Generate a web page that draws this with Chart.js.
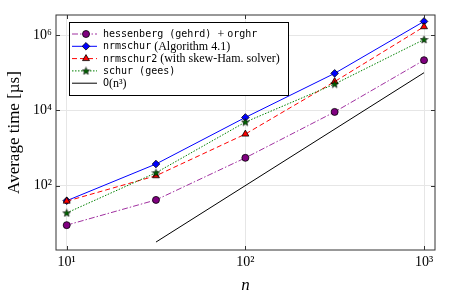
<!DOCTYPE html>
<html>
<head>
    <meta charset="UTF-8">
    <title>Average time</title>
    <style>
        body { margin: 0; background: #fff; }
        #wrap { width: 450px; height: 300px; }
    </style>
</head>
<body>
    <div id="wrap"><canvas id="chart" width="450" height="300"></canvas></div>
    <script src="https://cdn.jsdelivr.net/npm/chart.js"></script>
    <script>
        // values
        const nValues = [10, 31.6, 100, 316, 1000];
        const hessenbergTimes = [9, 42, 550, 9100, 215000];
        const nrmschurTimes = [40, 377, 6500, 96000, 2300000];
        const nrmschur2Times = [39, 184, 2350, 58000, 1660000];
        const schurTimes = [19, 221, 4900, 50000, 760000];
        const cubicN = [31.6, 1000];
        const cubicTimes = [3.2, 100000];
        const xTicks = [10, 100, 1000];
        const yTicks = [100, 10000, 1000000];

        const serif = "'Liberation Serif', serif";
        const mono = "'DejaVu Sans Mono', monospace";
        const sup = { '0': '⁰', '1': '¹', '2': '²', '3': '³', '4': '⁴', '5': '⁵', '6': '⁶' };
        const pow10 = v => '10' + String(Math.round(Math.log10(v))).split('').map(c => sup[c]).join('');

        // filled star marker
        const star = document.createElement('canvas');
        star.width = 9; star.height = 9;
        (function () {
            const c = star.getContext('2d');
            c.beginPath();
            for (let i = 0; i < 10; i++) {
                const r = i % 2 ? 1.7 : 4;
                const a = -Math.PI / 2 + i * Math.PI / 5;
                c.lineTo(4.5 + r * Math.cos(a), 4.8 + r * Math.sin(a));
            }
            c.closePath();
            c.fillStyle = '#006400';
            c.fill();
            c.strokeStyle = '#000';
            c.lineWidth = 0.6;
            c.stroke();
        })();

        const pts = (xs, ys) => xs.map((x, i) => ({ x: x, y: ys[i] }));

        const series = [
            { data: pts(nValues, hessenbergTimes), color: '#a030a0', fill: '#800080', style: 'circle', dash: [6, 2, 1.5, 2], radius: 3.5,
              parts: [['hessenberg', mono], [' (gehrd) ', mono], ['+ ', serif], ['orghr', mono]] },
            { data: pts(nValues, nrmschurTimes), color: '#0000ff', fill: '#0000ff', style: 'rectRot', dash: [], radius: 3.8,
              parts: [['nrmschur', mono], [' (Algorithm 4.1)', serif]] },
            { data: pts(nValues, nrmschur2Times), color: '#ff0000', fill: '#ff0000', style: 'triangle', dash: [5, 3], radius: 4,
              parts: [['nrmschur2', mono], [' (with skew-Ham. solver)', serif]] },
            { data: pts(nValues, schurTimes), color: '#008000', fill: '#006400', style: star, dash: [1.5, 1.5], radius: 4,
              parts: [['schur', mono], [' (gees)', mono]] },
            { data: pts(cubicN, cubicTimes), color: '#000000', fill: '#000', style: false, dash: [], radius: 0,
              parts: [['O', 'italic ' + serif], ['(', serif], ['n', 'italic ' + serif], ['³', serif], [')', serif]] }
        ];

        function drawMarker(ctx, s, x, y) {
            ctx.save();
            ctx.setLineDash([]);
            ctx.fillStyle = s.fill;
            ctx.strokeStyle = '#000';
            ctx.lineWidth = 0.8;
            const r = s.radius;
            if (s.style === 'circle') {
                ctx.beginPath(); ctx.arc(x, y, r, 0, 2 * Math.PI); ctx.fill(); ctx.stroke();
            } else if (s.style === 'rectRot') {
                ctx.beginPath(); ctx.moveTo(x, y - r); ctx.lineTo(x + r, y); ctx.lineTo(x, y + r); ctx.lineTo(x - r, y); ctx.closePath(); ctx.fill(); ctx.stroke();
            } else if (s.style === 'triangle') {
                ctx.beginPath(); ctx.moveTo(x, y - r); ctx.lineTo(x + r * 0.87, y + r * 0.5); ctx.lineTo(x - r * 0.87, y + r * 0.5); ctx.closePath(); ctx.fill(); ctx.stroke();
            } else if (s.style) {
                ctx.drawImage(s.style, x - 4.5, y - 4.5);
            }
            ctx.restore();
        }

        const legendBox = {
            id: 'legendBox',
            afterDraw(chart) {
                const ctx = chart.ctx;
                const left = chart.chartArea.left + 13, top = chart.chartArea.top + 7;
                ctx.save();
                ctx.fillStyle = '#fff';
                ctx.fillRect(left, top, 219, 73);
                ctx.strokeStyle = '#000';
                ctx.lineWidth = 1;
                ctx.strokeRect(left + 0.5, top + 0.5, 219, 73);
                series.forEach((s, i) => {
                    const y = top + 12 + i * 12.3;
                    ctx.strokeStyle = s.color;
                    ctx.lineWidth = 1;
                    ctx.setLineDash(s.dash);
                    ctx.beginPath(); ctx.moveTo(left + 3, y); ctx.lineTo(left + 28, y); ctx.stroke();
                    drawMarker(ctx, s, left + 17, y);
                    let x = left + 34;
                    ctx.fillStyle = '#000';
                    ctx.textBaseline = 'middle';
                    s.parts.forEach(p => {
                        ctx.font = (p[1] === mono ? '10px ' : '12px ') + p[1];
                        ctx.fillText(p[0], x, y + 0.5);
                        x += ctx.measureText(p[0]).width;
                    });
                });
                ctx.restore();
            }
        };

        const frame = {
            id: 'frame',
            afterDatasetsDraw(chart) {
                const a = chart.chartArea, ctx = chart.ctx;
                const xs = chart.scales.x, ys = chart.scales.y;
                ctx.save();
                ctx.strokeStyle = '#333';
                ctx.lineWidth = 1;
                ctx.strokeRect(a.left, a.top, a.right - a.left, a.bottom - a.top);
                ctx.beginPath();
                xTicks.forEach(v => {
                    const px = Math.round(xs.getPixelForValue(v)) + 0.5;
                    ctx.moveTo(px, a.bottom); ctx.lineTo(px, a.bottom - 4);
                    ctx.moveTo(px, a.top); ctx.lineTo(px, a.top + 4);
                });
                yTicks.forEach(v => {
                    const py = Math.round(ys.getPixelForValue(v)) + 0.5;
                    ctx.moveTo(a.left, py); ctx.lineTo(a.left + 4, py);
                    ctx.moveTo(a.right, py); ctx.lineTo(a.right - 4, py);
                });
                ctx.stroke();
                ctx.restore();
            }
        };

        new Chart(document.getElementById('chart'), {
            type: 'line',
            data: {
                datasets: series.map((s, i) => ({
                    data: s.data,
                    borderColor: s.color,
                    borderWidth: 1,
                    borderDash: s.dash,
                    pointStyle: s.style,
                    pointRadius: s.radius,
                    pointBackgroundColor: s.fill,
                    pointBorderColor: '#000',
                    pointBorderWidth: 0.8,
                    fill: false,
                    tension: 0,
                    order: series.length - i
                }))
            },
            options: {
                responsive: false,
                animation: false,
                layout: { padding: { top: 15, right: 15, left: 0, bottom: 0 } },
                plugins: { legend: { display: false }, tooltip: { enabled: false } },
                scales: {
                    x: {
                        type: 'logarithmic',
                        min: 8.71,
                        max: 1152,
                        afterBuildTicks: s => { s.ticks = xTicks.map(v => ({ value: v })); },
                        afterFit: s => { s.height = 50; },
                        ticks: { callback: v => pow10(v), color: '#000', font: { family: serif, size: 14 }, padding: 4, maxRotation: 0 },
                        grid: { color: '#e6e6e6', drawTicks: false },
                        border: { display: false },
                        title: { display: true, text: 'n', color: '#000', font: { family: serif, size: 17, style: 'italic' }, padding: { top: 0 } }
                    },
                    y: {
                        type: 'logarithmic',
                        min: 1.97,
                        max: 3400000,
                        afterBuildTicks: s => { s.ticks = yTicks.map(v => ({ value: v })); },
                        afterFit: s => { s.width = 56; },
                        ticks: { callback: v => pow10(v), color: '#000', font: { family: serif, size: 14 }, padding: 4 },
                        grid: { color: '#e6e6e6', drawTicks: false },
                        border: { display: false },
                        title: { display: true, text: 'Average time [µs]', color: '#000', font: { family: serif, size: 17 }, padding: { bottom: 0 } }
                    }
                }
            },
            plugins: [frame, legendBox]
        });
    </script>
</body>
</html>
